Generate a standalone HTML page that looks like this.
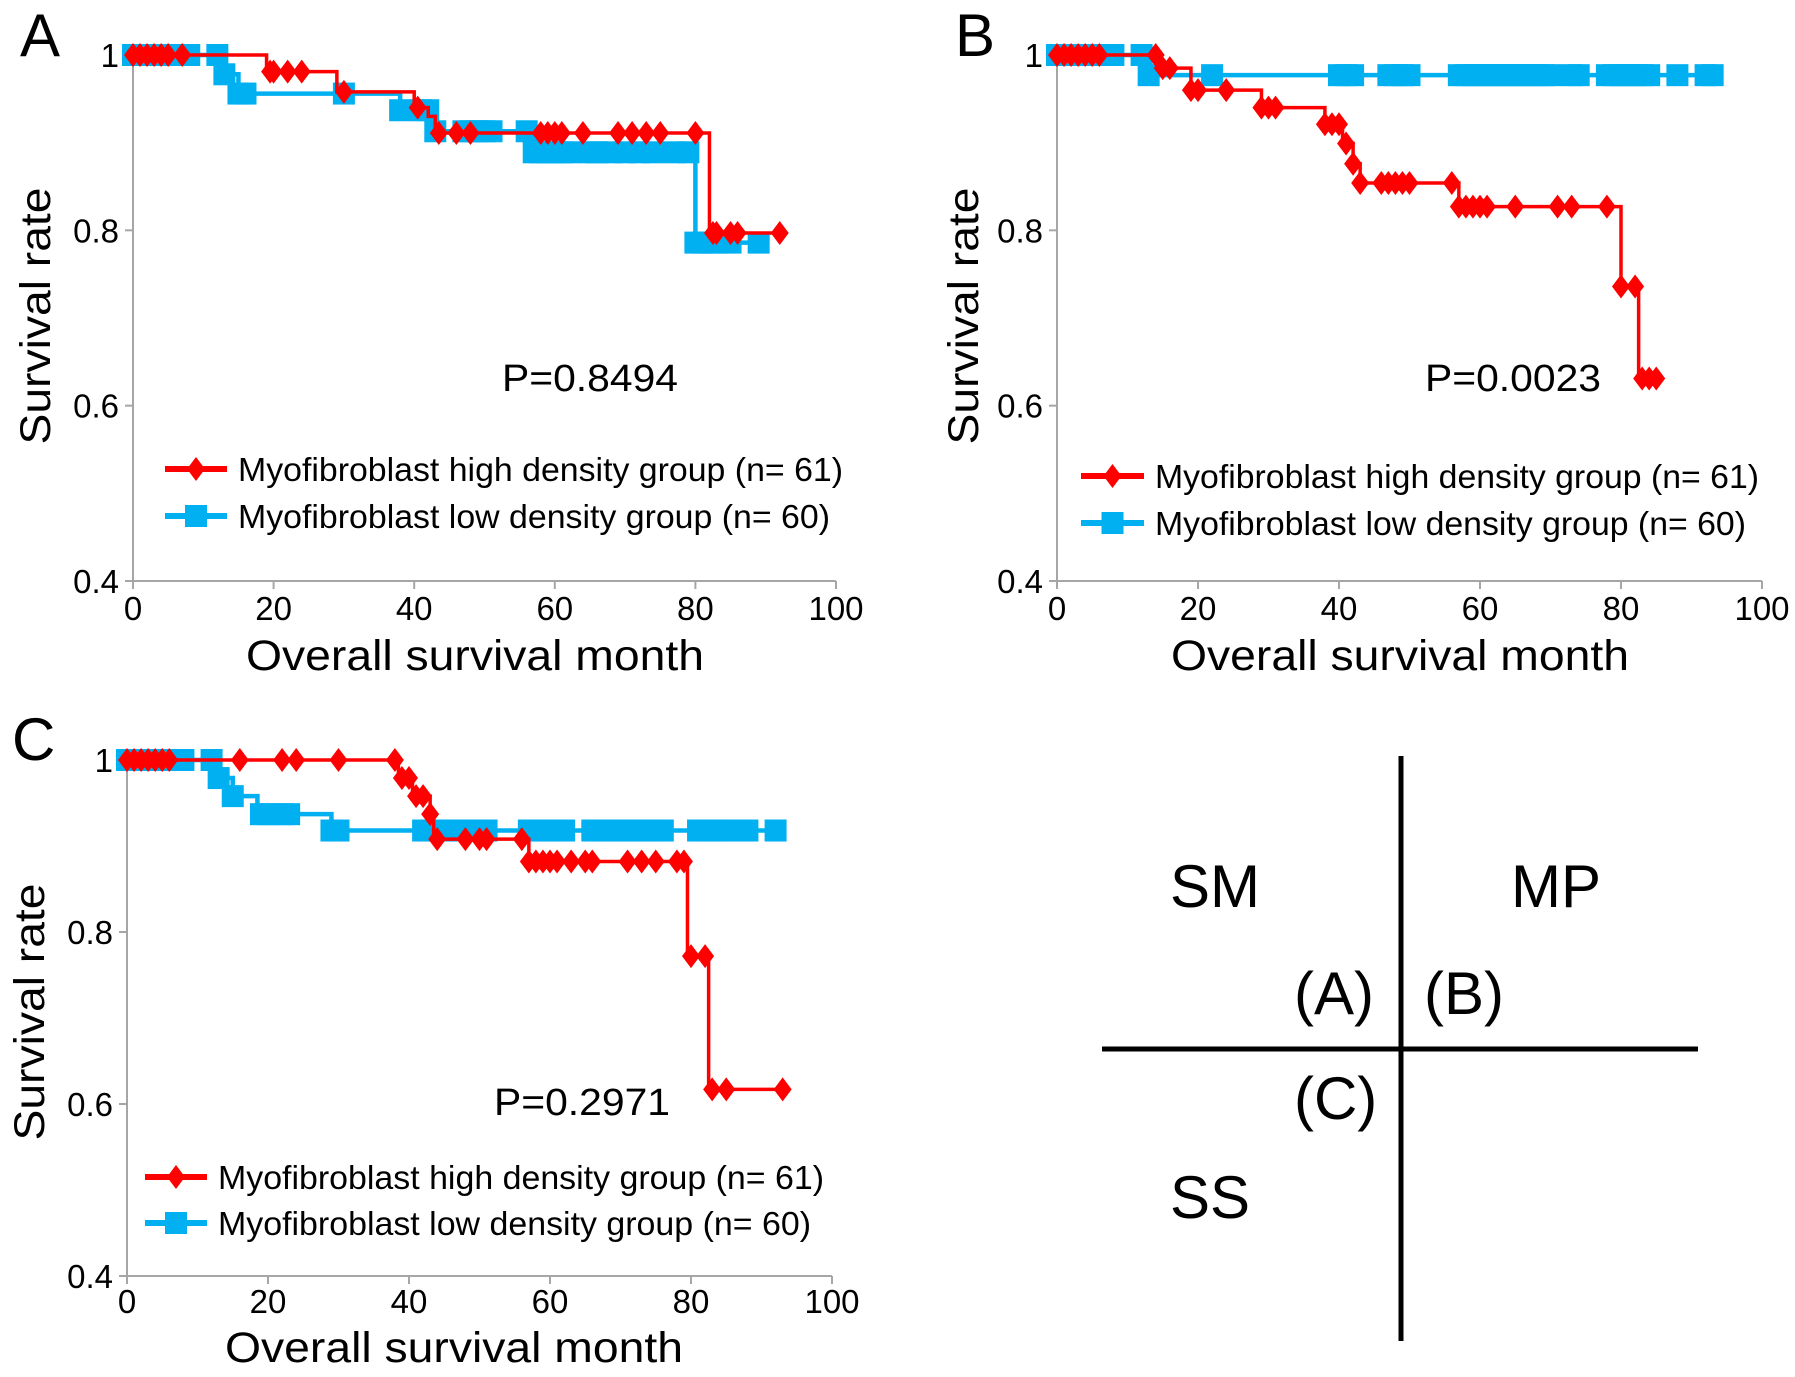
<!DOCTYPE html>
<html><head><meta charset="utf-8">
<style>
html,body{margin:0;padding:0;background:#fff;}
svg{display:block;}
text{font-family:"Liberation Sans",sans-serif;fill:#000;}
.tick{font-family:"Liberation Sans Narrow","Liberation Sans",sans-serif;font-size:33px;}
</style></head>
<body>
<svg id="fig" width="1795" height="1377" viewBox="0 0 1795 1377" xmlns="http://www.w3.org/2000/svg">
  <g>
    <line x1="1401" y1="756" x2="1401" y2="1341" stroke="#000" stroke-width="5"/>
    <line x1="1102" y1="1049" x2="1698" y2="1049" stroke="#000" stroke-width="5"/>
    <text x="1170" y="907" font-size="60">SM</text>
    <text x="1511" y="907" font-size="60">MP</text>
    <text x="1294" y="1014" font-size="60">(A)</text>
    <text x="1424" y="1014" font-size="60">(B)</text>
    <text x="1294" y="1119" font-size="60">(C)</text>
    <text x="1170" y="1218" font-size="60">SS</text>
  </g>
</svg>
<script>
// ---- data (months, survival) ----
const xTicks = [0, 20, 40, 60, 80, 100];
const yTicks = [0.4, 0.6, 0.8, 1];
const yTickLabels = ["0.4", "0.6", "0.8", "1"];
const legendLabels = ["Myofibroblast  high density group (n= 61)", "Myofibroblast low density group (n= 60)"];
const pValues = ["P=0.8494", "P=0.0023", "P=0.2971"];

// Panel A
const aHighTimes = [19, 29, 40, 42, 43, 82];
const aHighSurv  = [0.981, 0.958, 0.94, 0.93, 0.911, 0.797];
const aHighCensor = [0, 1, 2, 3, 4, 5, 7, 19.5, 20, 22, 24, 30, 40.5, 43.5, 46, 48, 58, 59, 60, 61, 64, 69, 71, 73, 75, 80, 82.5, 83, 85, 86, 92];
const aLowTimes = [13, 15, 38, 43, 56.5, 80];
const aLowSurv  = [0.978, 0.956, 0.937, 0.913, 0.889, 0.786];
const aLowCensor = [0, 1, 2, 3, 4, 5, 6, 8, 12, 13, 15, 16, 30, 38, 41, 42, 43, 47, 48, 49, 50, 51, 56, 57, 58, 59, 60, 61, 62, 65, 66, 68, 70, 72, 74, 77, 79, 80, 81, 82, 83, 85, 89];

// Panel B
const bHighTimes = [14.5, 19, 29, 38, 40.5, 42, 43, 57, 80, 82.5];
const bHighSurv  = [0.985, 0.96, 0.94, 0.921, 0.899, 0.876, 0.854, 0.827, 0.736, 0.631];
const bHighCensor = [0, 1, 2, 3, 4, 5, 6, 14, 15, 16, 19, 20, 24, 29, 30, 31, 38, 39, 40, 41, 42, 43, 46, 47, 48, 49, 50, 56, 57, 58, 59, 60, 61, 65, 71, 73, 78, 80, 82, 83, 84, 85];
const bLowTimes = [13];
const bLowSurv  = [0.977];
const bLowCensor = [0, 1, 2, 3, 4, 5, 6, 8, 12, 13, 22, 40, 41, 42, 47, 48, 49, 50, 57, 58, 59, 60, 61, 62, 63, 64, 65, 66, 67, 68, 69, 70, 73, 74, 78, 79, 80, 81, 82, 83, 84, 88, 92, 93];

// Panel C
const cHighTimes = [38.5, 40.5, 43, 43.5, 57, 79.5, 82.5];
const cHighSurv  = [0.979, 0.958, 0.937, 0.908, 0.882, 0.772, 0.617];
const cHighCensor = [0, 1, 2, 3, 4, 5, 6, 16, 22, 24, 30, 38, 39, 40, 41, 42, 43, 44, 48, 50, 51, 56, 57, 58, 59, 60, 61, 63, 65, 66, 71, 73, 75, 78, 79, 80, 82, 83, 85, 93];
const cLowTimes = [12.5, 15, 18.5, 29];
const cLowSurv  = [0.979, 0.958, 0.937, 0.918];
const cLowCensor = [0, 1, 2, 3, 4, 5, 8, 12, 13, 15, 19, 20, 22, 23, 29, 30, 42, 43, 44, 46, 47, 48, 49, 50, 51, 57, 58, 59, 60, 61, 62, 66, 67, 68, 69, 70, 71, 72, 73, 74, 75, 76, 81, 82, 83, 84, 85, 88, 92];

const NS = "http://www.w3.org/2000/svg";
const svg = document.getElementById("fig");
function mk(tag, attrs, parent) {
  const e = document.createElementNS(NS, tag);
  for (const k in attrs) e.setAttribute(k, attrs[k]);
  parent.appendChild(e);
  return e;
}
const RED = "#ff0000", BLUE = "#00b0f0";

function survAt(times, surv, t) {
  let s = 1;
  for (let i = 0; i < times.length; i++) if (times[i] <= t) s = surv[i];
  return s;
}
function diamond(g, cx, cy, col) {
  const d = mk("polygon", {points: `${cx},${cy-12} ${cx+9},${cy} ${cx},${cy+12} ${cx-9},${cy}`, fill: col}, g);
  
  
}
function square(g, cx, cy, col) {
  const r = mk("rect", {x: cx-11, y: cy-11, width: 22, height: 22, fill: col}, g);
  
  
}

function drawPanel(p) {
  const g = mk("g", {}, svg);
  
  
  const X = m => p.x0 + (p.x100 - p.x0) * m / 100;
  const Y = v => p.yb + (p.yt - p.yb) * (v - 0.4) / 0.6;
  const ax = mk("g", {stroke: "#a6a6a6", "stroke-width": 2}, g);
  
  
  mk("line", {x1: X(0), y1: Y(1), x2: X(0), y2: Y(0.4)}, ax);
  mk("line", {x1: X(0), y1: Y(0.4), x2: X(100), y2: Y(0.4)}, ax);
  yTicks.forEach((v, i) => {
    mk("line", {x1: X(0) - 8, y1: Y(v), x2: X(0), y2: Y(v)}, ax);
    const t = mk("text", {x: X(0) - 14, y: Y(v) + 12, "text-anchor": "end", class: "tick"}, g);
    t.textContent = yTickLabels[i];
    
    
  });
  xTicks.forEach(v => {
    mk("line", {x1: X(v), y1: Y(0.4), x2: X(v), y2: Y(0.4) + 8}, ax);
    const t = mk("text", {x: X(v), y: Y(0.4) + p.xlOff, "text-anchor": "middle", class: "tick"}, g);
    t.textContent = String(v);
    
    
  });
  p.series.forEach(s => {
    const sg = mk("g", {}, g);
    
    
    const last = Math.max(...s.censor, ...s.times);
    let d = `M${X(0)},${Y(1)}`;
    let cur = 1;
    s.times.forEach((t, i) => {
      d += ` L${X(t)},${Y(cur)} L${X(t)},${Y(s.surv[i])}`;
      cur = s.surv[i];
    });
    d += ` L${X(last)},${Y(cur)}`;
    const path = mk("path", {d: d, fill: "none", stroke: s.color, "stroke-width": s.width}, sg);
    
    
    s.censor.forEach(t => {
      const v = survAt(s.times, s.surv, t);
      if (s.marker === "d") diamond(sg, X(t), Y(v), s.color); else square(sg, X(t), Y(v), s.color);
    });
  });
  const lg = mk("g", {}, g);
  
  
  p.legendY.forEach((ly, i) => {
    const e = mk("g", {}, lg);
    
    
    const col = i === 0 ? RED : BLUE;
    mk("line", {x1: p.legX1, y1: ly, x2: p.legX2, y2: ly, stroke: col, "stroke-width": 6}, e);
    const mx = (p.legX1 + p.legX2) / 2;
    if (i === 0) diamond(e, mx, ly, col); else square(e, mx, ly, col);
    const t = mk("text", {x: p.legTx, y: ly + 12, "font-size": 33, textLength: i === 0 ? p.legW1 : p.legW2, lengthAdjust: "spacingAndGlyphs"}, e);
    t.textContent = legendLabels[i];
  });
  const pt = mk("text", {x: p.pX, y: p.pY, "font-size": 38, textLength: 176, lengthAdjust: "spacingAndGlyphs"}, g);
  pt.textContent = p.pText;
  
  
  const xt = mk("text", {x: p.xtX, y: p.xtY, "font-size": 43, textLength: 458, lengthAdjust: "spacingAndGlyphs"}, g);
  xt.textContent = "Overall survival month";
  
  
  const yt = mk("text", {x: 0, y: 0, "font-size": 43, "text-anchor": "middle", textLength: 257, lengthAdjust: "spacingAndGlyphs",
    transform: `translate(${p.ytX},${p.ytY}) rotate(-90)`}, g);
  yt.textContent = "Survival rate";
  
  
  const lt = mk("text", {x: p.letX, y: p.letY, "font-size": 60}, g);
  lt.textContent = p.letter;
  
  
}

drawPanel({id: "a", letter: "A", letX: 20, letY: 56, x0: 133, x100: 836, yt: 55, yb: 581, xlOff: 39,
  series: [
    {name: "series-low-density", times: aLowTimes, surv: aLowSurv, censor: aLowCensor, color: BLUE, width: 4.5, marker: "s"},
    {name: "series-high-density", times: aHighTimes, surv: aHighSurv, censor: aHighCensor, color: RED, width: 3.5, marker: "d"}],
  legendY: [469, 516], legX1: 165, legX2: 227, legTx: 238, legW1: 605, legW2: 592,
  pText: pValues[0], pX: 502, pY: 391, xtX: 246, xtY: 670, ytX: 50, ytY: 316});

drawPanel({id: "b", letter: "B", letX: 955, letY: 56, x0: 1057, x100: 1762, yt: 55, yb: 581, xlOff: 39,
  series: [
    {name: "series-low-density", times: bLowTimes, surv: bLowSurv, censor: bLowCensor, color: BLUE, width: 4.5, marker: "s"},
    {name: "series-high-density", times: bHighTimes, surv: bHighSurv, censor: bHighCensor, color: RED, width: 3.5, marker: "d"}],
  legendY: [476, 523], legX1: 1081, legX2: 1144, legTx: 1155, legW1: 604, legW2: 591,
  pText: pValues[1], pX: 1425, pY: 391, xtX: 1171, xtY: 670, ytX: 978, ytY: 316});

drawPanel({id: "c", letter: "C", letX: 12, letY: 760, x0: 127, x100: 832, yt: 760, yb: 1276, xlOff: 37,
  series: [
    {name: "series-low-density", times: cLowTimes, surv: cLowSurv, censor: cLowCensor, color: BLUE, width: 4.5, marker: "s"},
    {name: "series-high-density", times: cHighTimes, surv: cHighSurv, censor: cHighCensor, color: RED, width: 3.5, marker: "d"}],
  legendY: [1177, 1223], legX1: 145, legX2: 207, legTx: 218, legW1: 606, legW2: 593,
  pText: pValues[2], pX: 494, pY: 1115, xtX: 225, xtY: 1362, ytX: 44, ytY: 1012});
</script>
</body></html>
